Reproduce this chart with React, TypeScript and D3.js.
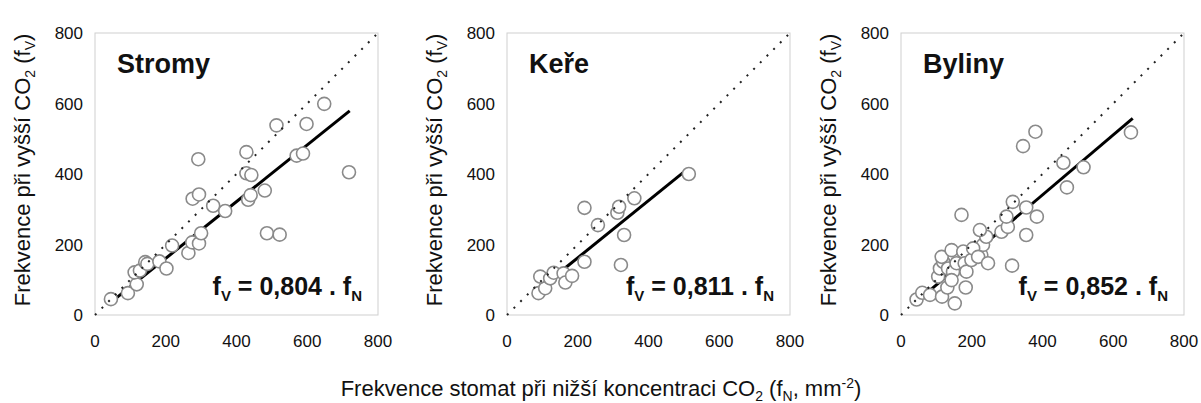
import React from "react";
import * as d3 from "d3";

// ---- data ----
const panelNames = ["Stromy", "Keře", "Byliny"];
const slopes = [0.804, 0.811, 0.852];
const slopeLabels = ["0,804", "0,811", "0,852"];
const fitRanges: [number, number][] = [[42, 720], [160, 510], [70, 655]];
const ticks = [0, 200, 400, 600, 800];

const stromy: [number, number][] = [
  [45, 45], [93, 62], [118, 87], [112, 121], [127, 126], [142, 150], [148, 145],
  [182, 152], [202, 132], [218, 197], [264, 176], [275, 206], [294, 203], [300, 232],
  [276, 330], [294, 342], [292, 442], [334, 310], [368, 295], [428, 462], [428, 402],
  [442, 397], [433, 327], [440, 340], [480, 353], [486, 232], [522, 228], [513, 538],
  [570, 452], [588, 458], [598, 542], [648, 599], [718, 405],
];
const kere: [number, number][] = [
  [89, 62], [108, 76], [94, 109], [122, 104], [132, 120], [160, 118], [165, 92],
  [184, 111], [219, 151], [219, 304], [257, 255], [312, 290], [317, 307], [331, 227],
  [322, 142], [360, 331], [514, 400],
];
const byliny: [number, number][] = [
  [44, 44], [60, 63], [82, 57], [116, 52], [131, 78], [152, 33], [183, 78],
  [105, 109], [110, 132], [119, 151], [115, 165], [143, 184], [133, 132], [147, 123],
  [157, 147], [176, 180], [180, 147], [185, 123], [199, 156], [227, 170], [232, 199],
  [204, 189], [218, 165], [241, 222], [246, 147], [171, 284], [143, 99], [223, 241],
  [284, 236], [302, 250], [298, 279], [316, 321], [314, 140], [354, 305], [354, 227],
  [384, 279], [345, 479], [380, 520], [459, 432], [469, 362], [516, 419], [650, 518],
];
const panelData = [stromy, kere, byliny];

// ---- layout ----
const W = 1201, H = 403;
const plotLefts = [95, 507, 901];
const plotW = 283, plotTop = 33, plotH = 282;
const font = "'Liberation Sans', Arial, sans-serif";

function Panel({ idx }: { idx: number }) {
  const left = plotLefts[idx];
  const x = d3.scaleLinear().domain([0, 800]).range([left, left + plotW]);
  const y = d3.scaleLinear().domain([0, 800]).range([plotTop + plotH, plotTop]);
  const data = panelData[idx];
  const line = d3.line<number>().x((v) => x(v)).y((v) => y(v * slopes[idx]));
  const diag = d3.line<number>().x((v) => x(v)).y((v) => y(v));
  return (
    <g>
      <rect x={left} y={plotTop} width={plotW} height={plotH} fill="white" stroke="#cfcfcf" strokeWidth={1} />
      {ticks.map((t) => (
        <text key={"y" + t} x={left - 12} y={y(t)} dy="0.36em" textAnchor="end" fontSize={17} fontFamily={font} fill="#111">{t}</text>
      ))}
      {ticks.map((t) => (
        <text key={"x" + t} x={x(t)} y={plotTop + plotH + 32} textAnchor="middle" fontSize={17} fontFamily={font} fill="#111">{t}</text>
      ))}
      <text transform={`translate(${left - 65},${plotTop + plotH / 2 - 4}) rotate(-90)`} textAnchor="middle" fontSize={22} fontFamily={font} fill="#111">
        Frekvence při vyšší CO<tspan fontSize={14} dy={5}>2</tspan><tspan dy={-5}> (f</tspan><tspan fontSize={14} dy={5}>V</tspan><tspan dy={-5}>)</tspan>
      </text>
      <path d={line(fitRanges[idx]) || ""} stroke="#000" strokeWidth={3} fill="none" />
      {data.map((d, i) => (
        <circle key={i} cx={x(d[0])} cy={y(d[1])} r={6.5} fill="white" stroke="#8a8a8a" strokeWidth={1.6} />
      ))}
      <path d={diag([0, 800]) || ""} stroke="#222" strokeWidth={2} strokeDasharray="2 7.4" fill="none" />
      <text x={left + 22} y={plotTop + 40} fontSize={27} fontWeight="bold" fontFamily={font} fill="#111">{panelNames[idx]}</text>
      <text x={left + plotW - 16} y={plotTop + plotH - 20} textAnchor="end" fontSize={25} fontWeight="bold" fontFamily={font} fill="#111">
        f<tspan fontSize={15} dy={6}>V</tspan><tspan dy={-6}> = {slopeLabels[idx]} . f</tspan><tspan fontSize={15} dy={6}>N</tspan>
      </text>
    </g>
  );
}

export default function App() {
  return (
    <svg width={W} height={H} style={{ position: "absolute", left: 0, top: 0, background: "white" }}>
      <rect width={W} height={H} fill="white" />
      {[0, 1, 2].map((i) => <Panel key={i} idx={i} />)}
      <text x={601} y={396} textAnchor="middle" fontSize={22} fontFamily={font} fill="#111">
        Frekvence stomat při nižší koncentraci CO<tspan fontSize={14} dy={5}>2</tspan><tspan dy={-5}> (f</tspan><tspan fontSize={14} dy={5}>N</tspan><tspan dy={-5}>, mm</tspan><tspan fontSize={14} dy={-8}>-2</tspan><tspan dy={8}>)</tspan>
      </text>
    </svg>
  );
}
